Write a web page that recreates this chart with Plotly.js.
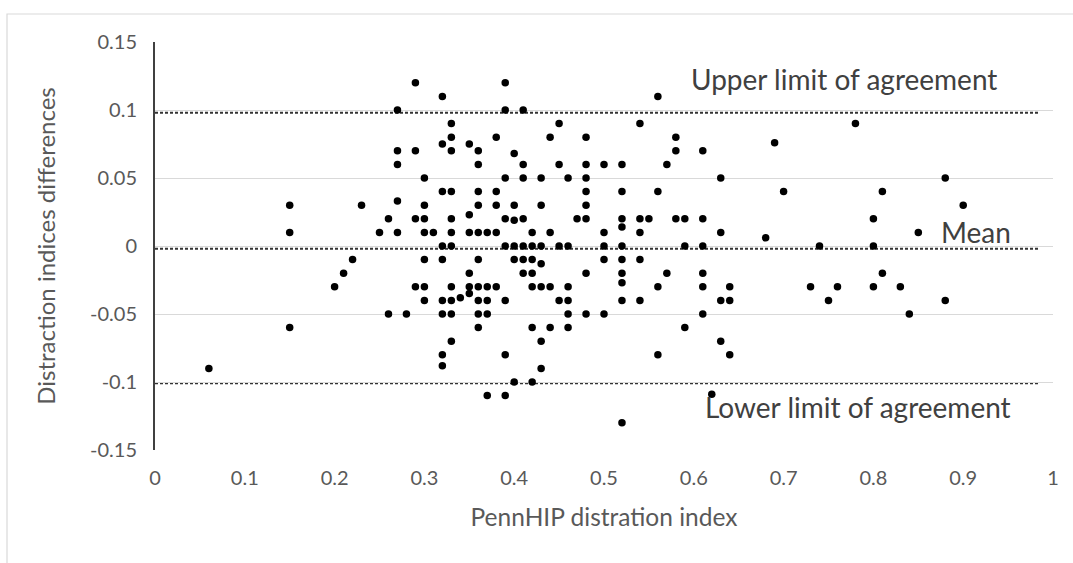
<!DOCTYPE html>
<html>
<head>
<meta charset="utf-8">
<script src="https://cdn.plot.ly/plotly-3.0.1.min.js"></script>
<style>
html, body { margin: 0; padding: 0; background: #ffffff; }
#chart { width: 1073px; height: 563px; }
</style>
</head>
<body>
<div id="chart"></div>
<script>
// PennHIP distraction index (x) for each dog
const pennhipIndex = [
  0.06,
  0.15, 0.15, 0.15,
  0.20, 0.21, 0.22, 0.23, 0.25,
  0.26, 0.26,
  0.27, 0.27, 0.27, 0.27, 0.27,
  0.28,
  0.29, 0.29, 0.29, 0.29,
  0.30, 0.30, 0.30, 0.30, 0.30, 0.30, 0.30,
  0.31,
  0.32, 0.32, 0.32, 0.32, 0.32, 0.32, 0.32, 0.32, 0.32,
  0.33, 0.33, 0.33, 0.33, 0.33, 0.33, 0.33, 0.33, 0.33, 0.33, 0.33,
  0.34,
  0.35, 0.35, 0.35, 0.35, 0.35, 0.35,
  0.36, 0.36, 0.36, 0.36, 0.36, 0.36, 0.36, 0.36, 0.36, 0.36,
  0.37, 0.37, 0.37, 0.37, 0.37,
  0.38, 0.38, 0.38, 0.38, 0.38,
  0.39, 0.39, 0.39, 0.39, 0.39, 0.39, 0.39, 0.39,
  0.40, 0.40, 0.40, 0.40, 0.40, 0.40,
  0.41, 0.41, 0.41, 0.41, 0.41, 0.41, 0.41,
  0.42, 0.42, 0.42, 0.42, 0.42, 0.42, 0.42,
  0.43, 0.43, 0.43, 0.43, 0.43, 0.43, 0.43,
  0.44, 0.44, 0.44, 0.44,
  0.45, 0.45, 0.45, 0.45,
  0.46, 0.46, 0.46, 0.46, 0.46, 0.46,
  0.47,
  0.48, 0.48, 0.48, 0.48, 0.48, 0.48, 0.48, 0.48,
  0.50, 0.50, 0.50, 0.50, 0.50,
  0.52, 0.52, 0.52, 0.52, 0.52, 0.52, 0.52, 0.52, 0.52, 0.52,
  0.54, 0.54, 0.54, 0.54, 0.54,
  0.55,
  0.56, 0.56, 0.56, 0.56,
  0.57, 0.57,
  0.58, 0.58, 0.58,
  0.59, 0.59, 0.59,
  0.61, 0.61, 0.61, 0.61, 0.61, 0.61,
  0.62,
  0.63, 0.63, 0.63, 0.63,
  0.64, 0.64, 0.64,
  0.68, 0.69, 0.70, 0.73, 0.74, 0.75, 0.76, 0.78,
  0.80, 0.80, 0.80,
  0.81, 0.81,
  0.83, 0.84, 0.85,
  0.88, 0.88,
  0.90
];

// Difference between the two distraction index measurements (y)
const indexDifferences = [
  -0.09,
  0.03, 0.01, -0.06,
  -0.03, -0.02, -0.01, 0.03, 0.01,
  0.02, -0.05,
  0.10, 0.07, 0.06, 0.033, 0.01,
  -0.05,
  0.12, 0.07, 0.02, -0.03,
  0.05, 0.03, 0.02, 0.01, -0.01, -0.03, -0.04,
  0.01,
  0.11, 0.075, 0.04, 0.0, -0.01, -0.04, -0.05, -0.08, -0.088,
  0.09, 0.08, 0.07, 0.04, 0.02, 0.01, 0.0, -0.03, -0.04, -0.05, -0.07,
  -0.038,
  0.075, 0.023, 0.01, -0.02, -0.03, -0.035,
  0.07, 0.06, 0.04, 0.03, 0.01, -0.01, -0.03, -0.04, -0.05, -0.06,
  0.01, -0.03, -0.04, -0.05, -0.11,
  0.08, 0.04, 0.03, 0.01, -0.03,
  0.12, 0.10, 0.05, 0.02, 0.0, -0.04, -0.08, -0.11,
  0.068, 0.03, 0.019, 0.0, -0.01, -0.10,
  0.10, 0.06, 0.05, 0.02, 0.0, -0.01, -0.02,
  0.01, 0.0, -0.01, -0.02, -0.03, -0.06, -0.10,
  0.05, 0.03, 0.0, -0.013, -0.03, -0.07, -0.09,
  0.08, 0.01, -0.03, -0.06,
  0.09, 0.06, 0.0, -0.04,
  0.05, 0.0, -0.03, -0.04, -0.05, -0.06,
  0.02,
  0.08, 0.06, 0.05, 0.04, 0.03, 0.02, -0.02, -0.05,
  0.06, 0.01, 0.0, -0.01, -0.05,
  0.06, 0.04, 0.02, 0.014, 0.0, -0.01, -0.02, -0.027, -0.04, -0.13,
  0.09, 0.02, 0.01, -0.01, -0.04,
  0.02,
  0.11, 0.04, -0.03, -0.08,
  0.06, -0.02,
  0.08, 0.07, 0.02,
  0.02, 0.0, -0.06,
  0.07, 0.02, 0.0, -0.02, -0.03, -0.05,
  -0.109,
  0.05, 0.01, -0.04, -0.07,
  -0.03, -0.04, -0.08,
  0.006, 0.076, 0.04, -0.03, 0.0, -0.04, -0.03, 0.09,
  0.02, 0.0, -0.03,
  0.04, -0.02,
  -0.03, -0.05, 0.01,
  0.05, -0.04,
  0.03
];

// Bland-Altman reference lines
const limitNames = ["Upper limit of agreement", "Mean", "Lower limit of agreement"];
const limitValues = [0.098, -0.002, -0.101];
const limitSpan = [0, 0.985];

// Axis ticks
const xTickValues = [0, 0.1, 0.2, 0.3, 0.4, 0.5, 0.6, 0.7, 0.8, 0.9, 1];
const xTickLabels = ["0", "0.1", "0.2", "0.3", "0.4", "0.5", "0.6", "0.7", "0.8", "0.9", "1"];
const yTickValues = [0.15, 0.1, 0.05, 0, -0.05, -0.1, -0.15];
const yTickLabels = ["0.15", "0.1", "0.05", "0", "-0.05", "-0.1", "-0.15"];

const FONT = "Lato, 'Open Sans', sans-serif";
const TEXT_GREY = "#595959";

const pointsTrace = {
  type: "scatter",
  mode: "markers",
  x: pennhipIndex,
  y: indexDifferences,
  marker: { color: "#000000", size: 7.5, line: { width: 0 } },
  cliponaxis: false,
  showlegend: false,
  hoverinfo: "x+y"
};

const limitShapes = limitValues.map(function (v) {
  return {
    type: "line", xref: "x", yref: "y",
    x0: limitSpan[0], x1: limitSpan[1], y0: v, y1: v,
    line: { color: "#333333", width: 2, dash: "3px,2px" },
    layer: "below"
  };
});

// outer chart border (left and top edges visible)
const borderShape = {
  type: "rect", xref: "paper", yref: "paper",
  x0: -0.1648, x1: 1.03, y0: -0.3, y1: 1.0686,
  line: { color: "#d9d9d9", width: 1.2 },
  fillcolor: "rgba(0,0,0,0)", layer: "below"
};

const labelPositions = [
  { x: 0.767, y: 0.1225 },
  { x: 0.914, y: 0.0105 },
  { x: 0.783, y: -0.1185 }
];

const annotations = limitNames.map(function (name, i) {
  return {
    text: name, xref: "x", yref: "y",
    x: labelPositions[i].x, y: labelPositions[i].y,
    xanchor: "center", yanchor: "middle", showarrow: false,
    font: { family: FONT, size: 28, color: "#404040" }
  };
});

const layout = {
  width: 1073, height: 563,
  margin: { l: 155, r: 20, t: 42, b: 113, pad: 0 },
  paper_bgcolor: "#ffffff", plot_bgcolor: "#ffffff",
  font: { family: FONT, color: TEXT_GREY },
  showlegend: false,
  xaxis: {
    range: [0, 1], tickmode: "array", tickvals: xTickValues, ticktext: xTickLabels,
    showgrid: false, zeroline: false, showline: false, ticks: "",
    ticklabelstandoff: 14,
    tickfont: { family: FONT, size: 20, color: TEXT_GREY },
    title: { text: "PennHIP distration index", font: { family: FONT, size: 24.5, color: TEXT_GREY }, standoff: 20 }
  },
  yaxis: {
    range: [-0.15, 0.15], tickmode: "array", tickvals: yTickValues, ticktext: yTickLabels,
    showgrid: true, gridcolor: "#d9d9d9", gridwidth: 1,
    zeroline: false, showline: true, linecolor: "#404040", linewidth: 2, ticks: "",
    ticklabelstandoff: 12,
    tickfont: { family: FONT, size: 20, color: TEXT_GREY },
    title: { text: "Distraction indices differences", font: { family: FONT, size: 24, color: TEXT_GREY }, standoff: 28 }
  },
  shapes: [borderShape].concat(limitShapes),
  annotations: annotations
};

Plotly.newPlot("chart", [pointsTrace], layout, { displayModeBar: false, staticPlot: true });
</script>
</body>
</html>
